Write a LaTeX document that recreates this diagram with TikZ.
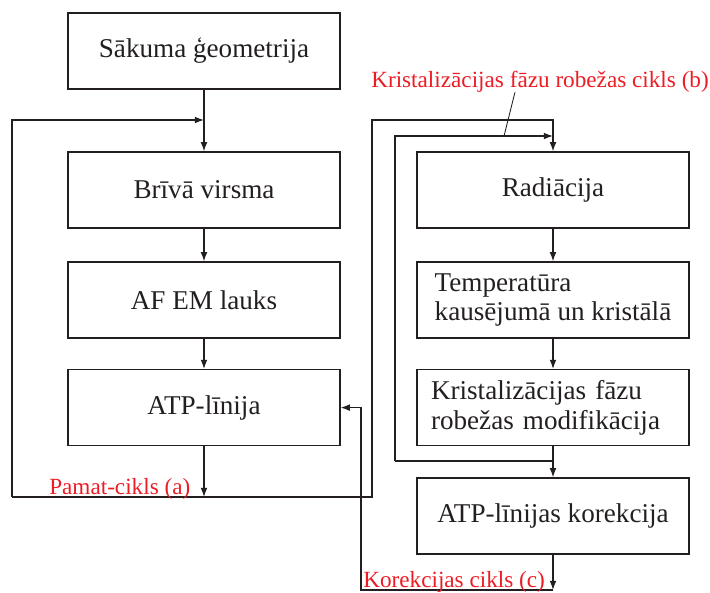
\documentclass[tikz,border=0pt]{standalone}
\usepackage{fontspec}
\setmainfont{Liberation Serif}
\usetikzlibrary{arrows.meta,calc}
\definecolor{cycred}{HTML}{ED1C24}
\definecolor{inkgray}{HTML}{231F20}

\begin{document}
\begin{tikzpicture}[
  box/.style={draw=inkgray, line width=0.9pt, minimum width=6.8cm, minimum height=1.9cm,
              text=inkgray, font=\fontsize{19.3}{21}\selectfont},
  wire/.style={draw=inkgray, line width=0.9pt},
  arr/.style={wire, -{Latex[length=2.3mm,width=1.7mm]}},
  cyc/.style={text=cycred, font=\fontsize{16.5}{19}\selectfont, inner sep=0pt}
]
  \useasboundingbox (0,0) rectangle (17.75,-14.8);
  % left column
  \node[box] (start) at (5.1,-1.275) {Sākuma ģeometrija};
  \node[box] (free)  at (5.1,-4.75)  {Brīvā virsma};
  \node[box] (afem)  at (5.1,-7.5)   {AF EM lauks};
  \node[box] (atp)   at (5.1,-10.19) {ATP-līnija};
  % right column
  \node[box] (rad)   at (13.825,-4.75)  {Radiācija};
  \node[box, align=left] (temp)  at (13.825,-7.5)
    {Temperatūra\\kausējumā un kristālā};
  \node[box, align=left, inner xsep=0.35cm, text width=6.1cm] (krist) at (13.825,-10.19)
    {Kristalizācijas fāzu\\robežas modifikācija};
  \node[box] (corr)  at (13.825,-12.9)  {ATP-līnijas korekcija};
  % loop corners
  \coordinate (aBL) at (0.3,-12.425);
  \coordinate (aTL) at (0.3,-3.0);
  \coordinate (aBR) at (9.3,-12.425);
  \coordinate (aTR) at (9.3,-3.0);
  \coordinate (bTL) at (9.875,-3.4);
  \coordinate (bBL) at (9.875,-11.525);
  \coordinate (cBL) at (9.025,-14.75);
  \coordinate (bLead) at (12.6,-3.4);
  % main flow
  \draw[arr] (start) -- (free);
  \draw[arr] (free) -- (afem);
  \draw[arr] (afem) -- (atp);
  \draw[arr] (rad) -- (temp);
  \draw[arr] (temp) -- (krist);
  \draw[arr] (krist) -- (corr);
  % loop (a)
  \draw[arr] (atp) -- (atp |- aBL);
  \draw[arr] (aBL) -- (aTL) -- (start |- aTL);
  \draw[arr] (aBL) -- (aBR) -- (aTR) -- (rad.north |- aTR) -- (rad);
  % loop (b)
  \draw[arr] (bBL) -- (bTL) -- (rad.north |- bTL);
  \draw[wire] (bBL) -- (krist |- bBL);
  % loop (c)
  \draw[arr] (corr) -- (corr |- cBL);
  \draw[arr] (corr |- cBL) -- (cBL) |- (atp.east);
  % labels
  \node[cyc, anchor=base west] (cycA) at (1.225,-12.35)  {Pamat-cikls (a)};
  \node[cyc, anchor=base west] (cycB) at (9.275,-2.175)  {Kristalizācijas fāzu robežas cikls (b)};
  \node[cyc, anchor=base west] (cycC) at (9.075,-14.675) {Korekcijas cikls (c)};
  \draw[wire, line width=0.6pt] ($(cycB.south west)+(3.6,0)$) -- (bLead);
\end{tikzpicture}
\end{document}
